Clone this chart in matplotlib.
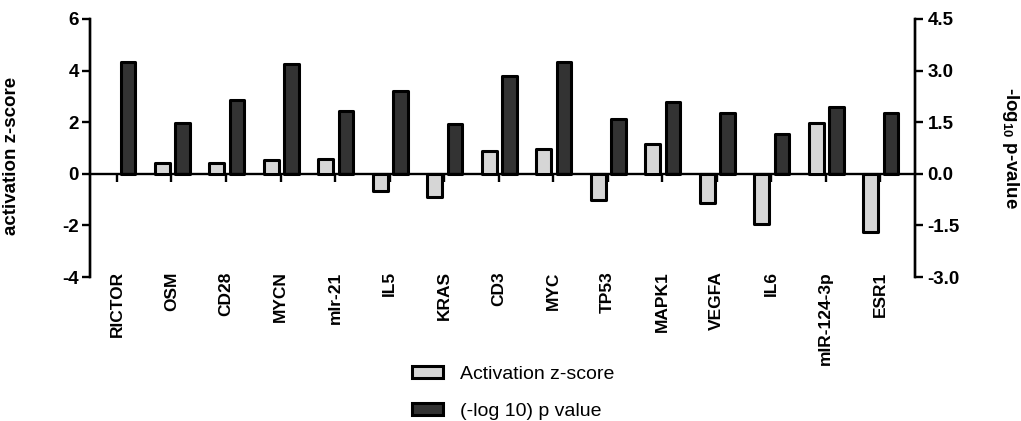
import numpy as np
import matplotlib
matplotlib.use("Agg")
import matplotlib.pyplot as plt
from matplotlib.patches import Patch

plt.rcParams['font.family'] = ['Liberation Sans', 'DejaVu Sans']
plt.rcParams['mathtext.default'] = 'regular'
plt.rcParams['axes.unicode_minus'] = False

genes = ["RICTOR", "OSM", "CD28", "MYCN", "mIr-21", "IL5", "KRAS", "CD3", "MYC",
         "TP53", "MAPK1", "VEGFA", "IL6", "mIR-124-3p", "ESR1"]
# RICTOR has no activation z-score
zscore = [np.nan, 0.43, 0.43, 0.53, 0.58, -0.67, -0.9, 0.89, 0.98,
          -1.0, 1.15, -1.15, -1.96, 1.98, -2.25]
logp = [3.26, 1.48, 2.14, 3.19, 1.83, 2.40, 1.44, 2.84, 3.24,
        1.60, 2.10, 1.78, 1.15, 1.93, 1.78]

light = "#d6d6d6"
dark = "#333333"
lw = 2.2

fig = plt.figure(figsize=(10.21, 4.21), dpi=100)
ax = fig.add_axes([90/1021, 1 - 277/421, 825/1021, 258/421])
ax2 = ax.twinx()

x = np.arange(len(genes))
w = 0.27
ax.bar(x - 0.17, zscore, w, color=light, edgecolor="black", linewidth=lw,
       joinstyle='round', zorder=3)
ax2.bar(x + 0.20, logp, w, color=dark, edgecolor="black", linewidth=lw,
        joinstyle='round', zorder=3)

ax.set_xlim(-0.495, 14.64)
ax.set_ylim(-4, 6)
ax.set_yticks(np.arange(-4, 7, 2))
ax2.set_ylim(-3, 4.5)
ax2.set_yticks(np.arange(-3, 4.6, 1.5))
ax2.set_yticklabels(["%.1f" % v for v in np.arange(-3, 4.6, 1.5)])

for a in (ax, ax2):
    a.spines['top'].set_visible(False)
    a.spines['left'].set_linewidth(1.7)
    a.spines['right'].set_linewidth(1.7)
    a.spines['bottom'].set_visible(False)
    for lab in a.get_yticklabels():
        lab.set_fontweight('bold')

ax.spines['bottom'].set_visible(True)
ax.spines['bottom'].set_position(('data', 0))
ax.spines['bottom'].set_linewidth(1.7)
ax.set_xticks(x)
ax.tick_params(axis='x', direction='out', length=6, width=1.7, labelbottom=False)
ax.tick_params(axis='y', length=6, width=1.7, pad=2, labelsize=13.5)
ax2.tick_params(axis='y', length=6, width=1.7, pad=3, labelsize=13.5)
ax.set_zorder(ax2.get_zorder() + 1)
ax.patch.set_visible(False)

for xi, g in zip(x, genes):
    ax.text(xi, 0.022, g, transform=ax.get_xaxis_transform(), rotation=90,
            ha='center', va='top', fontsize=12.5, fontweight='bold')

ax.set_ylabel("activation z-score", fontsize=13.5, fontweight='bold')
ax.yaxis.set_label_coords(-0.085, 0.47)
ax2.set_ylabel("-log$_{10}$ p-value", fontsize=13.5, fontweight='bold', rotation=270)
ax2.yaxis.set_label_coords(1.128, 0.5)

handles = [Patch(facecolor=light, edgecolor="black", linewidth=lw, joinstyle='round'),
           Patch(facecolor=dark, edgecolor="black", linewidth=lw, joinstyle='round')]
fig.legend(handles, ["Activation z-score", "(-log 10) p value"],
           loc='upper left', bbox_to_anchor=(412/1021, 1 - 366/421),
           frameon=False, fontsize=14, handlelength=1.6, handleheight=0.6,
           handletextpad=0.85, labelspacing=1.02, borderpad=0, borderaxespad=0)

fig.savefig("out.png", dpi=100)
